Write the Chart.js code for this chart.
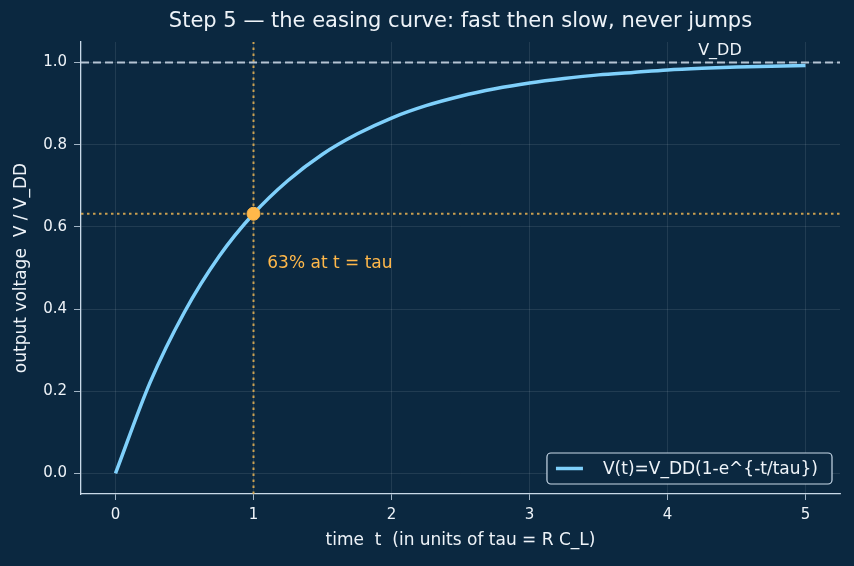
<!DOCTYPE html>
<html>
<head>
<meta charset="utf-8">
<script src="https://cdn.jsdelivr.net/npm/chart.js@4/dist/chart.umd.min.js"></script>
<style>
  html, body { margin: 0; padding: 0; background: #0b2840; }
  #wrap { width: 854px; height: 566px; }
</style>
</head>
<body>
<div id="wrap"><canvas id="myChart" width="854" height="566"></canvas></div>
<script>
// time samples (units of tau) and the output voltage
const tValues = [0, 0.25, 0.5, 0.75, 1, 1.25, 1.5, 1.75, 2, 2.25, 2.5, 2.75, 3, 3.25, 3.5, 3.75, 4, 4.25, 4.5, 4.75, 5];
const vValues = [0, 0.221, 0.393, 0.528, 0.632, 0.713, 0.777, 0.826, 0.865, 0.895, 0.918, 0.936, 0.950, 0.961, 0.970, 0.976, 0.982, 0.986, 0.989, 0.991, 0.993];
const xTicks = [0, 1, 2, 3, 4, 5];
const yTicks = [0.0, 0.2, 0.4, 0.6, 0.8, 1.0];
const tauPoint = [1, 0.632];
const vddLevel = 1.0;

const BG = '#0b2840';
const AXIS = '#c9d9e8';
const TXT = '#eef3f8';
const CURVE = '#7fd0fb';
const ORANGE = '#ffb84a';
const DOTTED = 'rgba(222,172,82,0.9)';
const FONT = "'DejaVu Sans', sans-serif";

const curve = tValues.map((t, i) => ({x: t, y: vValues[i]}));

// background, title, annotation text and legend box
const extras = {
    id: 'extras',
    beforeDraw(chart) {
        const c = chart.ctx;
        c.save();
        c.fillStyle = BG;
        c.fillRect(0, 0, chart.width, chart.height);
        c.restore();
    },
    afterDraw(chart) {
        const c = chart.ctx;
        const a = chart.chartArea;
        const xs = chart.scales.x, ys = chart.scales.y;
        c.save();
        c.fillStyle = TXT;
        c.font = '21px ' + FONT;
        c.textAlign = 'center';
        c.textBaseline = 'middle';
        c.fillText('Step 5 \u2014 the easing curve: fast then slow, never jumps', (a.left + a.right) / 2, 22);

        c.font = '16px ' + FONT;
        c.textBaseline = 'bottom';
        c.fillText('V_DD', xs.getPixelForValue(4.38), ys.getPixelForValue(vddLevel) - 4);

        c.font = '17px ' + FONT;
        c.fillStyle = ORANGE;
        c.textAlign = 'left';
        c.textBaseline = 'alphabetic';
        c.fillText('63% at t = tau', xs.getPixelForValue(1.1), ys.getPixelForValue(0.5));

        // legend
        const label = chart.data.datasets[0].label;
        const tw = c.measureText(label).width;
        const w = tw + 70, h = 31;
        const x0 = a.right - 8 - w, y0 = a.bottom - 10 - h;
        c.beginPath();
        c.roundRect(x0, y0, w, h, 4);
        c.fillStyle = BG;
        c.fill();
        c.strokeStyle = AXIS;
        c.lineWidth = 1.2;
        c.stroke();
        c.beginPath();
        c.moveTo(x0 + 9, y0 + h / 2);
        c.lineTo(x0 + 36, y0 + h / 2);
        c.strokeStyle = CURVE;
        c.lineWidth = 3.5;
        c.stroke();
        c.fillStyle = TXT;
        c.textBaseline = 'middle';
        c.fillText(label, x0 + 56, y0 + h / 2 + 1);
        c.restore();
    }
};

new Chart(document.getElementById('myChart').getContext('2d'), {
    type: 'scatter',
    data: {
        datasets: [
            {
                label: 'V(t)=V_DD(1-e^{-t/tau})',
                data: curve,
                showLine: true,
                borderColor: CURVE,
                borderWidth: 3.5,
                pointRadius: 0,
                cubicInterpolationMode: 'monotone',
                order: 3
            },
            {
                label: 'vdd',
                data: [{x: -0.25, y: vddLevel}, {x: 5.25, y: vddLevel}],
                showLine: true,
                borderColor: '#b5c4d3',
                borderWidth: 2,
                borderDash: [8, 4],
                pointRadius: 0,
                order: 2
            },
            {
                label: 'vtau',
                data: [{x: tauPoint[0], y: -0.05}, {x: tauPoint[0], y: 1.05}],
                showLine: true,
                borderColor: DOTTED,
                borderWidth: 2,
                borderDash: [2.5, 3.5],
                pointRadius: 0,
                order: 4
            },
            {
                label: 'htau',
                data: [{x: -0.25, y: tauPoint[1]}, {x: 5.25, y: tauPoint[1]}],
                showLine: true,
                borderColor: DOTTED,
                borderWidth: 2,
                borderDash: [2.5, 3.5],
                pointRadius: 0,
                order: 4
            },
            {
                label: 'point',
                data: [{x: tauPoint[0], y: tauPoint[1]}],
                pointRadius: 6.5,
                pointBackgroundColor: ORANGE,
                pointBorderColor: ORANGE,
                order: 1
            }
        ]
    },
    options: {
        responsive: false,
        animation: false,
        layout: { padding: { left: 0, right: 14, top: 42, bottom: 0 } },
        plugins: {
            legend: { display: false },
            title: { display: false },
            tooltip: { enabled: false }
        },
        scales: {
            x: {
                type: 'linear',
                min: -0.25,
                max: 5.25,
                afterBuildTicks: s => { s.ticks = xTicks.map(v => ({value: v})); },
                afterFit: s => { s.height = 72; },
                ticks: { color: TXT, font: { family: FONT, size: 15 }, padding: 6 },
                grid: { color: 'rgba(255,255,255,0.12)', tickColor: AXIS, tickLength: 6, lineWidth: 0.8 },
                border: { color: AXIS, width: 1.3 },
                title: { display: true, text: 'time  t  (in units of tau = R C_L)', color: TXT, font: { family: FONT, size: 17 }, padding: { bottom: 15 } }
            },
            y: {
                type: 'linear',
                min: -0.05,
                max: 1.05,
                afterBuildTicks: s => { s.ticks = yTicks.map(v => ({value: v})); },
                afterFit: s => { s.width = 81; },
                ticks: { color: TXT, font: { family: FONT, size: 15 }, padding: 7, callback: v => v.toFixed(1) },
                grid: { color: 'rgba(255,255,255,0.12)', tickColor: AXIS, tickLength: 7, lineWidth: 0.8 },
                border: { color: AXIS, width: 1.3 },
                title: { display: true, text: 'output voltage  V / V_DD', color: TXT, font: { family: FONT, size: 17 }, padding: { top: 11 } }
            }
        }
    },
    plugins: [extras]
});
</script>
</body>
</html>
